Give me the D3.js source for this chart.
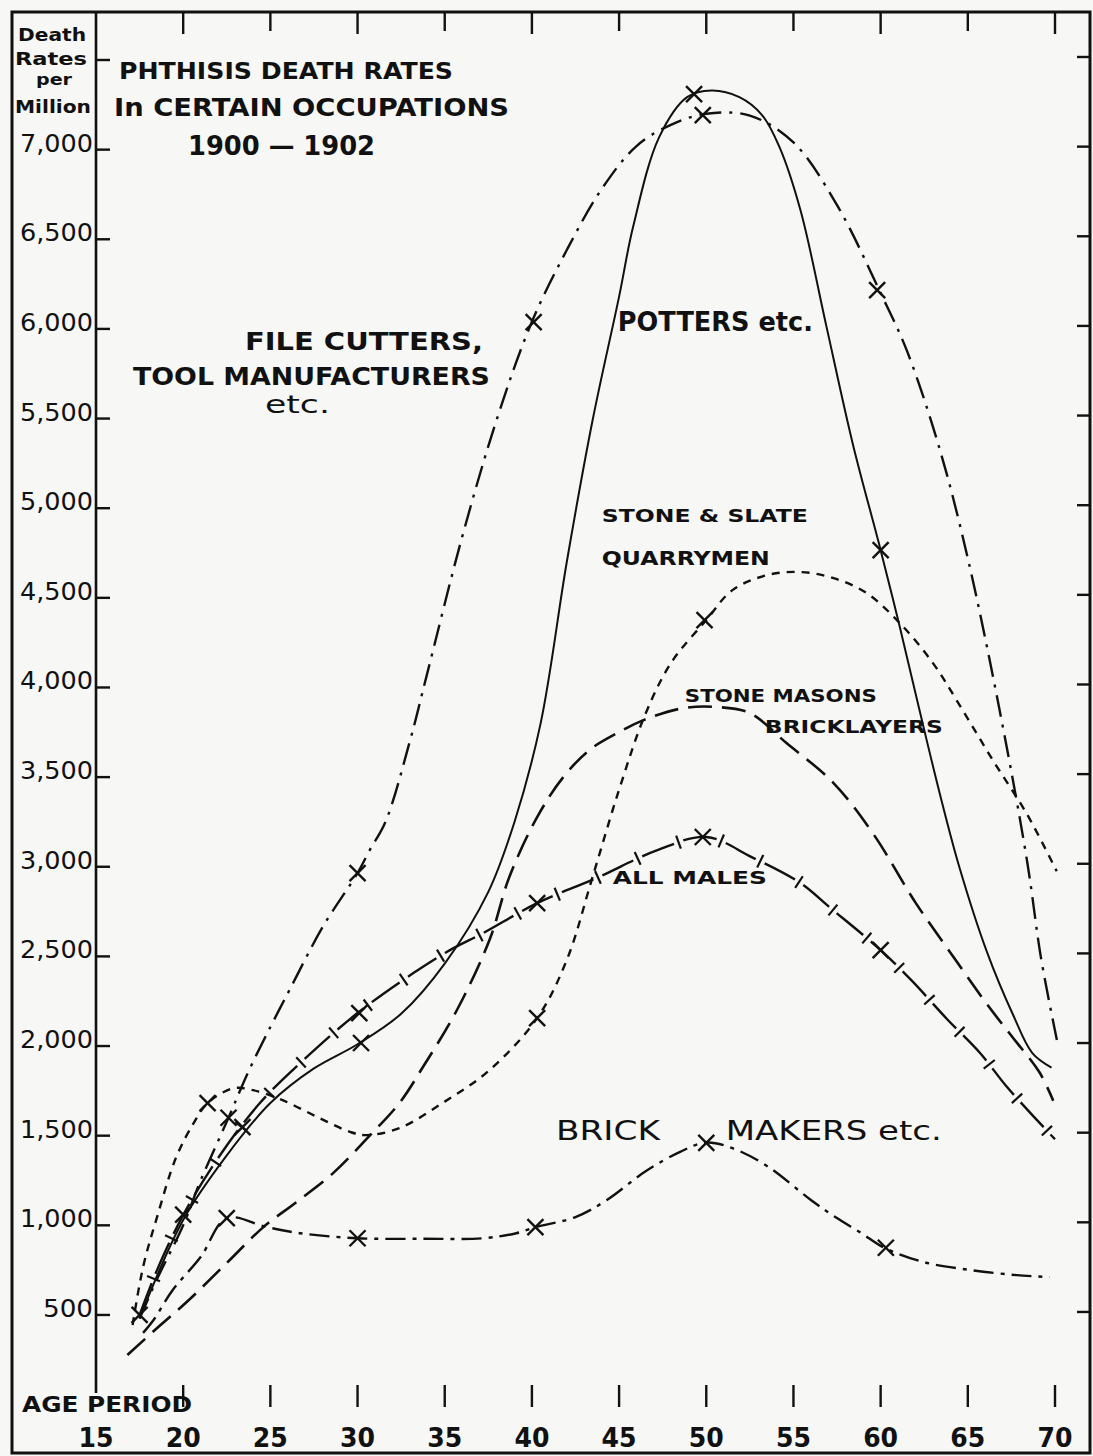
<!DOCTYPE html>
<html><head><meta charset="utf-8">
<script src="https://cdn.jsdelivr.net/npm/d3@7"></script>
<style>html,body{margin:0;padding:0;background:#f7f7f5}svg{display:block}</style>
</head><body>
<svg id="chart" width="1093" height="1456"></svg>
<script>
// ---------- data ----------
const yTickValues = [500,1000,1500,2000,2500,3000,3500,4000,4500,5000,5500,6000,6500,7000];
const yTickLabels = ["500","1,000","1,500","2,000","2,500","3,000","3,500","4,000","4,500","5,000","5,500","6,000","6,500","7,000"];
const yTickExtra = [7500];
const ageTicks = [20,25,30,35,40,45,50,55,60,65,70];
const ageLabelValues = [15,20,25,30,35,40,45,50,55,60,65,70];
const ageLabels = ["15","20","25","30","35","40","45","50","55","60","65","70"];

const pottersAges   = [17.5,20,22.5,25,27.5,30,32.5,35,37.5,39,40.5,42,43.5,45,45.8,47.3,48.9,50.3,51.9,53.2,54.2,55.4,56.9,58.4,60,61.1,62.2,63.4,64.5,66.1,67.6,68.7,69.8];
const pottersValues = [480,1030,1390,1682,1875,2010,2180,2460,2860,3250,3800,4700,5500,6180,6568,7070,7293,7330,7293,7193,7014,6663,6010,5360,4766,4337,3885,3405,3003,2524,2173,1961,1880];
const pottersMarkAges = [17.5,30.2,49.3,60];
const pottersMarkValues = [500,2017,7310,4766];

const fileAges   = [17.5,18.5,20,21,22.6,23.7,25,26.1,28,30,30.7,31.6,33,34,36,38,40,42,44,46,48,50,52.5,55,57.5,60,61.5,63.4,65,66.8,68.4,69.2,70.2];
const fileValues = [480,700,1000,1250,1600,1849,2106,2313,2664,2965,3093,3250,3700,4080,4840,5500,6040,6440,6780,7020,7140,7200,7190,7040,6690,6200,5880,5325,4720,3885,3031,2490,1990];
const fileMarkAges = [22.6,30,40.1,49.8,59.8];
const fileMarkValues = [1600,2965,6038,7193,6216];

const allAges   = [17.5,18.5,20,22,24.4,26.9,30,33.2,35.3,37.2,40.3,43.7,47.2,50,52.6,55.4,57,60,61.8,63.8,65.7,67.2,68.7,70];
const allValues = [500,750,1057,1375,1682,1922,2184,2407,2535,2630,2797,2937,3093,3166,3054,2909,2780,2535,2363,2151,1961,1777,1615,1480];
const allMarkAges = [20,23.4,30.1,40.3,49.8,60];
const allMarkValues = [1060,1548,2184,2797,3166,2535];

const quarryAges   = [17.1,17.7,18.5,19.6,20.6,21.4,22.9,24,25.7,27.7,29.6,30.5,32.4,35,37.5,40.3,42,43.5,45,46.5,48,50,51.5,53.5,55.4,57.3,59.2,61.1,63,64.5,66.4,68.4,70.1];
const quarryValues = [444,767,1046,1380,1570,1682,1765,1754,1698,1604,1520,1503,1542,1690,1860,2156,2480,2950,3430,3850,4140,4376,4543,4627,4644,4610,4526,4359,4136,3906,3600,3292,2975];
const quarryMarkAges = [21.4,40.3,49.9];
const quarryMarkValues = [1682,2156,4376];

const masonAges   = [16.8,18.7,20.2,22.5,24.6,26.5,28.6,30.6,32.4,33.75,35.7,37.6,38.7,40.3,41.8,43.3,44.9,46.4,48.7,50.6,52.5,54.6,57.3,59.6,62,64.3,66.2,67.6,69.1,69.9];
const masonValues = [277,444,572,790,990,1130,1291,1490,1682,1883,2201,2600,2942,3277,3500,3651,3746,3818,3885,3891,3857,3690,3467,3180,2800,2480,2220,2045,1855,1695];

const brickAges   = [17.7,18.3,19.4,21,22.5,24.8,26.7,30,33.75,37.2,39.1,40.2,42.5,44.3,46.5,48.5,50,51.5,53.5,56,57.4,58.9,60.2,62.5,65.2,67.8,69.7];
const brickValues = [400,472,639,823,1040,990,956,928,925,928,956,990,1046,1141,1300,1410,1462,1430,1330,1141,1046,956,875,794,750,722,711];
const brickMarkAges = [22.5,30,40.2,50,60.3];
const brickMarkValues = [1040,928,990,1460,875];

// ---------- scales ----------
const svg = d3.select("#chart");
const x = d3.scaleLinear().domain([15,70]).range([96,1055]);
const y = d3.scaleLinear().domain([0,7500]).range([1404.6,60]);
const INK = "#111";
const FONT = "'DejaVu Sans', 'Liberation Sans', sans-serif";

// frame
svg.append("rect").attr("x",12).attr("y",12).attr("width",1078).attr("height",1441)
  .attr("fill","none").attr("stroke",INK).attr("stroke-width",3);
svg.append("line").attr("x1",x(15)).attr("x2",x(15)).attr("y1",12).attr("y2",1393)
  .attr("stroke",INK).attr("stroke-width",2.6);

// y ticks left (inward) and right (inward)
const allYTicks = yTickValues.concat(yTickExtra);
svg.append("g").selectAll("line").data(allYTicks).join("line")
  .attr("x1",x(15)).attr("x2",x(15)+14).attr("y1",d=>y(d)).attr("y2",d=>y(d))
  .attr("stroke",INK).attr("stroke-width",2.4);
svg.append("g").selectAll("line").data(allYTicks).join("line")
  .attr("x1",1090).attr("x2",1077).attr("y1",d=>y(d)-3).attr("y2",d=>y(d)-3)
  .attr("stroke",INK).attr("stroke-width",2.4);

// y tick labels
svg.append("g").selectAll("text").data(yTickValues).join("text")
  .attr("x",93).attr("y",d=>y(d)+2).attr("text-anchor","end")
  .attr("font-family",FONT).attr("font-size",24).attr("fill",INK)
  .attr("textLength",(d,i)=>yTickLabels[i].length>3?73:50).attr("lengthAdjust","spacingAndGlyphs")
  .text((d,i)=>yTickLabels[i]);

// left column header
const head = [["Death",41,18,68,17],["Rates",65,15,72,17],["per",85,36,36,15],["Million",113,15,76,17]];
svg.append("g").selectAll("text").data(head).join("text")
  .attr("x",d=>d[2]).attr("y",d=>d[1]).attr("font-family",FONT).attr("font-size",d=>d[4])
  .attr("font-weight","bold").attr("fill",INK)
  .attr("textLength",d=>d[3]).attr("lengthAdjust","spacingAndGlyphs").text(d=>d[0]);

// top ticks
svg.append("g").selectAll("line").data(ageTicks).join("line")
  .attr("x1",d=>x(d)).attr("x2",d=>x(d)).attr("y1",12).attr("y2",(d,i)=>i%2===0?34:31)
  .attr("stroke",INK).attr("stroke-width",2.4);
// bottom ticks
svg.append("g").selectAll("line").data(ageTicks).join("line")
  .attr("x1",d=>x(d)).attr("x2",d=>x(d)).attr("y1",1385).attr("y2",1407)
  .attr("stroke",INK).attr("stroke-width",2.4);
// age labels
svg.append("g").selectAll("text").data(ageLabelValues).join("text")
  .attr("x",d=>x(d)).attr("y",1447).attr("text-anchor","middle")
  .attr("font-family",FONT).attr("font-size",26).attr("font-weight","bold").attr("fill",INK)
  .attr("textLength",35).attr("lengthAdjust","spacingAndGlyphs")
  .text((d,i)=>ageLabels[i]);
svg.append("text").attr("x",22).attr("y",1412).attr("font-family",FONT).attr("font-size",22)
  .attr("font-weight","bold").attr("fill",INK).attr("textLength",170).attr("lengthAdjust","spacingAndGlyphs")
  .text("AGE PERIOD");

// title
const title = [["PHTHISIS DEATH RATES",119,79,334,23],["In CERTAIN   OCCUPATIONS",114,116,395,25],["1900 — 1902",188,155,187,27]];
svg.append("g").selectAll("text").data(title).join("text")
  .attr("x",d=>d[1]).attr("y",d=>d[2]).attr("font-family",FONT).attr("font-size",d=>d[4])
  .attr("font-weight","bold").attr("fill",INK).attr("textLength",d=>d[3])
  .attr("lengthAdjust","spacingAndGlyphs").text(d=>d[0]);

// ---------- curves ----------
const line = d3.line().x(d=>x(d[0])).y(d=>y(d[1])).curve(d3.curveCatmullRom.alpha(0.5));
const zip = (a,v)=>a.map((t,i)=>[t,v[i]]);
const curves = svg.append("g").attr("fill","none").attr("stroke",INK).attr("stroke-linecap","butt");

curves.append("path").attr("d",line(zip(pottersAges,pottersValues))).attr("stroke-width",2);
curves.append("path").attr("d",line(zip(fileAges,fileValues))).attr("stroke-width",2.4)
  .attr("stroke-dasharray","22 8 3 8");
curves.append("path").attr("d",line(zip(quarryAges,quarryValues))).attr("stroke-width",2.4)
  .attr("stroke-dasharray","8 7");
curves.append("path").attr("d",line(zip(masonAges,masonValues))).attr("stroke-width",2.6)
  .attr("stroke-dasharray","24 10");
curves.append("path").attr("d",line(zip(brickAges,brickValues))).attr("stroke-width",2.4)
  .attr("stroke-dasharray","20 7 4 7");
const allPath = curves.append("path").attr("d",line(zip(allAges,allValues))).attr("stroke-width",2.4)
  .attr("stroke-dasharray","34 10");

// cross ticks on the "all males" line, placed in each gap
const node = allPath.node(), L = node.getTotalLength();
const tickG = svg.append("g").attr("stroke",INK).attr("stroke-width",2.2);
for (let s = 39; s < L - 5; s += 44) {
  const p = node.getPointAtLength(s);
  const a = node.getPointAtLength(Math.max(0,s-2)), b = node.getPointAtLength(Math.min(L,s+2));
  const dx=b.x-a.x, dy=b.y-a.y, n=Math.hypot(dx,dy)||1;
  const nx=-dy/n, ny=dx/n;
  tickG.append("line").attr("x1",p.x-nx*7).attr("y1",p.y-ny*7).attr("x2",p.x+nx*7).attr("y2",p.y+ny*7);
}

// markers
const marks = [].concat(
  zip(pottersMarkAges,pottersMarkValues), zip(fileMarkAges,fileMarkValues),
  zip(allMarkAges,allMarkValues), zip(quarryMarkAges,quarryMarkValues), zip(brickMarkAges,brickMarkValues));
const mg = svg.append("g").attr("stroke",INK).attr("stroke-width",2.4);
marks.forEach(m=>{
  const cx=x(m[0]), cy=y(m[1]), r=8;
  mg.append("line").attr("x1",cx-r).attr("y1",cy-r).attr("x2",cx+r).attr("y2",cy+r);
  mg.append("line").attr("x1",cx-r).attr("y1",cy+r).attr("x2",cx+r).attr("y2",cy-r);
});

// ---------- series labels (placed in data space) ----------
const labels = [
  ["FILE CUTTERS,",23.54,5882,238,25,"bold"],
  ["TOOL MANUFACTURERS",17.12,5687,357,25,"bold"],
  ["etc.",24.69,5531,65,25,"normal"],
  ["POTTERS etc.",44.93,5989,195,27,"bold"],
  ["STONE & SLATE",44.01,4923,206,18,"bold"],
  ["QUARRYMEN",44.01,4683,168,19,"bold"],
  ["STONE MASONS",48.77,3918,192,17,"bold"],
  ["BRICKLAYERS",53.36,3746,178,17,"bold"],
  ["ALL MALES",44.64,2904,154,18,"bold"],
  ["BRICK",41.38,1475,104,26,"normal"],
  ["MAKERS etc.",51.12,1475,216,26,"normal"]
];
svg.append("g").selectAll("text").data(labels).join("text")
  .attr("x",d=>x(d[1])).attr("y",d=>y(d[2])).attr("font-family",FONT)
  .attr("font-size",d=>d[4]).attr("font-weight",d=>d[5]).attr("fill",INK)
  .attr("textLength",d=>d[3]).attr("lengthAdjust","spacingAndGlyphs").text(d=>d[0]);
</script>
</body></html>
